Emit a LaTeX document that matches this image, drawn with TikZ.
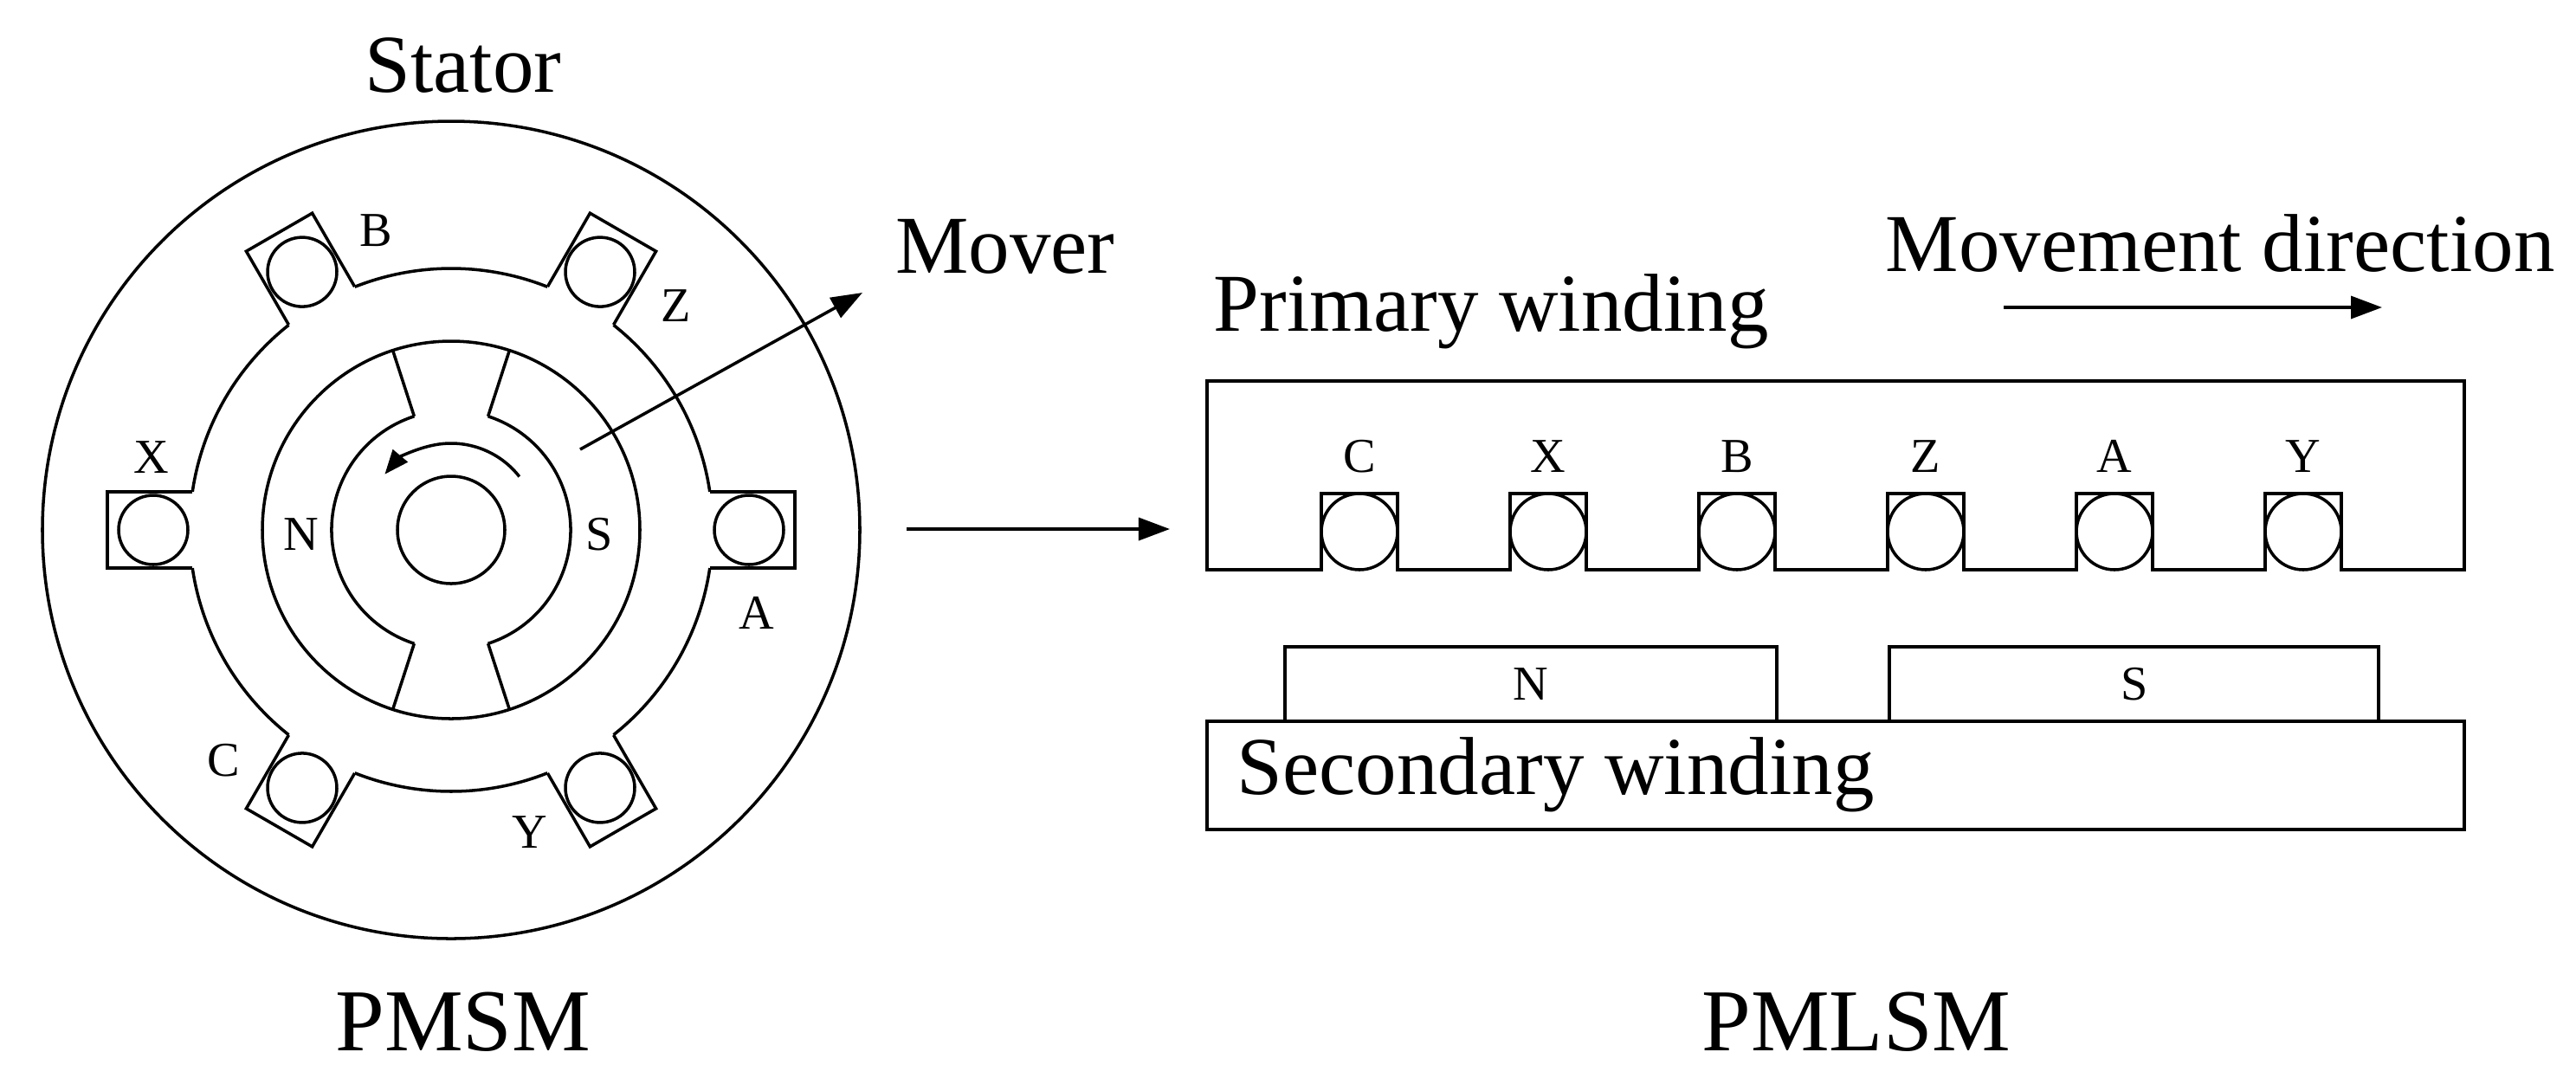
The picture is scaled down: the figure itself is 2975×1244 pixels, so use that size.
\documentclass[tikz,border=0pt]{standalone}
\usepackage{fontspec}
\setmainfont{Liberation Serif}
\usetikzlibrary{arrows.meta}
\begin{document}
\begin{tikzpicture}[x=0.01cm,y=0.01cm,line width=1pt,
  lbl/.style={font=\fontsize{16}{16}\selectfont,inner sep=0pt},
  big/.style={font=\fontsize{27}{27}\selectfont,inner sep=0pt},
  ttl/.style={font=\fontsize{29}{29}\selectfont,inner sep=0pt},
  arr/.style={-{Triangle[length=0.36cm,width=0.26cm]}},
  sarr/.style={-{Triangle[length=0.28cm,width=0.22cm]}}]
\useasboundingbox (0,0) rectangle (2975,-1244);
% ---------- PMSM ----------
\begin{scope}[shift={(521,-612)}]
  \draw (0,0) circle (472);
  \foreach \a in {0,60,...,300}{
    \draw[rotate=\a] (299,-44) -- (397,-44) -- (397,44) -- (299,44);
    \draw[rotate=\a] (344,0) circle (40);
    \draw (\a+8.4:302) arc[start angle=\a+8.4, end angle=\a+51.6, radius=302];
  }
  \draw (0,0) circle (218);
  \draw (0,0) circle (62);
  \draw (108:138) arc[start angle=108,end angle=252,radius=138];
  \draw (-72:138) arc[start angle=-72,end angle=72,radius=138];
  \foreach \a in {72,108,252,288} \draw (\a:138) -- (\a:218);
  \coordinate (r1) at (38:100);
  \draw[sarr] (r1) arc[start angle=38,end angle=140,radius=100];
  \coordinate (mv) at (149,93);
\end{scope}
\node[lbl] (lB) at (434,-266) {B};
\node[lbl] (lZ) at (781,-353) {Z};
\node[lbl] (lX) at (175,-528) {X};
\node[lbl] (lA) at (874,-708) {A};
\node[lbl] (lC) at (258,-878) {C};
\node[lbl] (lY) at (612,-961) {Y};
\node[lbl] (lN) at (348,-617) {N};
\node[lbl] (lS) at (692,-617) {S};
\node[big] (stator) at (535,-76) {Stator};
\node[big] (mover) at (1161,-285) {Mover};
\coordinate (mt) at (996,-338);
\draw[arr] (mv) -- (mt);
\node[ttl] (pmsm) at (535,-1180) {PMSM};
% ---------- middle arrow ----------
\coordinate (m1) at (1047,-611);
\coordinate (m2) at (1351,-611);
\draw[arr] (m1) -- (m2);
% ---------- PMLSM ----------
\draw (1394,-658) -- (1394,-440) -- (2846,-440) -- (2846,-658) -- (2704,-658)
  -- (2704,-570) -- (2616,-570) -- (2616,-658) -- (2486,-658)
  -- (2486,-570) -- (2398,-570) -- (2398,-658) -- (2268,-658)
  -- (2268,-570) -- (2180,-570) -- (2180,-658) -- (2050,-658)
  -- (2050,-570) -- (1962,-570) -- (1962,-658) -- (1832,-658)
  -- (1832,-570) -- (1744,-570) -- (1744,-658) -- (1614,-658)
  -- (1614,-570) -- (1526,-570) -- (1526,-658) -- cycle;
\foreach \x/\t in {1570/C,1788/X,2006/B,2224/Z,2442/A,2660/Y}{
  \draw (\x,-614) circle (44);
  \node[lbl] (s\t) at (\x,-527) {\t};
}
\draw (1394,-833) rectangle (2846,-958);
\draw (1484,-833) rectangle (2052,-747);
\draw (2182,-833) rectangle (2747,-747);
\node[lbl] (mN) at (1768,-790) {N};
\node[lbl] (mS) at (2465,-790) {S};
\node[big,anchor=west] (sec) at (1427,-895) {Secondary winding};
\node[big,anchor=west] (pri) at (1400,-360) {Primary winding};
\node[big,anchor=west] (mvd) at (2176,-281) {Movement direction};
\coordinate (d1) at (2314,-355);
\coordinate (d2) at (2751,-355);
\draw[arr] (d1) -- (d2);
\node[ttl] (pmlsm) at (2144,-1180) {PMLSM};
\end{tikzpicture}
\end{document}
